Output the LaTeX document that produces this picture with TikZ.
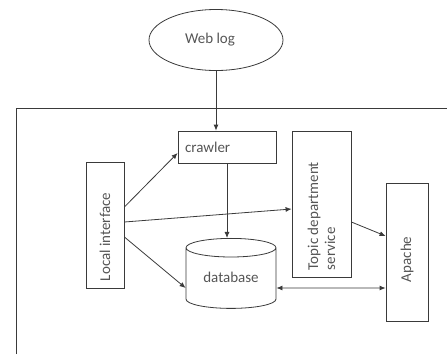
\documentclass[tikz,border=0pt]{standalone}
\usepackage{fontspec}
\setmainfont{Carlito}
\usepackage{graphicx}
\usepackage{tikz}
\usetikzlibrary{shapes.geometric, arrows.meta, positioning}

\definecolor{linegray}{HTML}{3A3A3A}
\definecolor{textgray}{HTML}{555555}

\begin{document}
\begin{tikzpicture}[
		x=1pt, y=-1pt,
		% Define styles for the nodes
		box_node/.style={
			rectangle,
			draw=linegray,
			thick,
			text=textgray,
			font=\fontsize{15}{17}\selectfont,
			inner sep=0pt
		},
		log_node/.style={
			ellipse,
			draw=linegray,
			thick,
			text=textgray,
			font=\fontsize{15}{17}\selectfont,
			minimum width=134pt,
			minimum height=61pt
		},
		db_node/.style={
			cylinder,
			shape border rotate=90,
			aspect=0.3,
			draw=linegray,
			thick,
			text=textgray,
			font=\fontsize{15}{17}\selectfont,
			minimum width=90pt,
			minimum height=70pt
		},
		arrow_style/.style={
			-{Latex[length=6pt,width=5pt]},
			thick,
			draw=linegray
		},
		]
		\useasboundingbox (0,0) rectangle (447,354);
		
		% ----- Frame -----
		\draw[linegray, thick] (16,354) |- (447,108);
		
		% ----- Nodes -----
		\node[log_node] (weblog) at (216,40) {\hspace*{-12pt}Web log};
		\node[box_node, minimum width=98pt, minimum height=32pt, text width=84pt, align=left] (crawler) at (227,147) {crawler};
		\node[box_node, minimum width=38pt, minimum height=126pt] (local) at (105,225) {\rotatebox{90}{\parbox{112pt}{Local interface}}};
		\node[box_node, minimum width=59pt, minimum height=146pt] (topic) at (321.5,204) {\rotatebox{90}{\parbox{132pt}{Topic department\\service}}};
		\node[box_node, minimum width=42pt, minimum height=138pt] (apache) at (407,252) {\rotatebox{90}{\parbox{60pt}{Apache}}};
		\node[db_node] (db) at (231,280) {\raisebox{5pt}{database}};
		
		% ----- Arrows -----
		\draw[arrow_style] (weblog.south) -- (weblog.south |- crawler.north);
		\draw[arrow_style] (crawler.south) -- (crawler.south |- db.north);
		\draw[arrow_style] ([yshift=18pt]local.east) -- ([yshift=-6pt]crawler.west);
		\draw[arrow_style] ([yshift=3pt]local.east) -- ([yshift=-5pt]topic.west);
		\draw[arrow_style] ([yshift=-12pt]local.east) -- ([yshift=-8pt]db.west);
		\draw[arrow_style] ([yshift=-18pt]topic.east) -- ([yshift=16pt]apache.west);
		\draw[arrow_style, {Latex[length=6pt,width=5pt]}-{Latex[length=6pt,width=5pt]}] ([yshift=-8pt]db.east) -- ([yshift=-36pt]apache.west);
		
	\end{tikzpicture}
\end{document}
